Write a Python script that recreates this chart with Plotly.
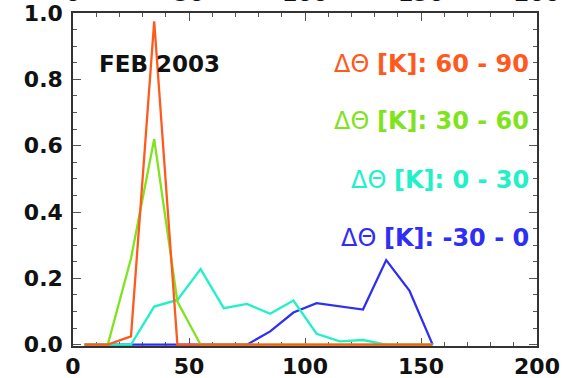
import plotly.graph_objects as go

# Bin centres of the distributions
x_bins = [5, 15, 25, 35, 45, 55, 65, 75, 85, 95, 105, 115, 125, 135, 145, 155]

# Normalised frequency for each potential-temperature-difference class
freq_m30_0 = [0, 0, 0, 0, 0, 0, 0, 0, 0.04, 0.097, 0.125, 0.116, 0.106, 0.255, 0.163, 0]
freq_0_30 = [0, 0, 0, 0.115, 0.135, 0.228, 0.11, 0.123, 0.093, 0.133, 0.033, 0.01, 0.014, 0, 0, 0]
freq_30_60 = [0, 0, 0.26, 0.62, 0.13, 0, 0, 0, 0, 0, 0, 0, 0, 0, 0, 0]
freq_60_90 = [0, 0, 0.025, 0.975, 0, 0, 0, 0, 0, 0, 0, 0, 0, 0, 0, 0]

series_labels = ["-30 - 0", "0 - 30", "30 - 60", "60 - 90"]
series_values = [freq_m30_0, freq_0_30, freq_30_60, freq_60_90]
series_colors = ["#2E2EF5", "#22F0C8", "#7FE31E", "#FF5A1E"]
label_y = [0.321, 0.498, 0.673, 0.847]

title_text = "FEB 2003"
x_ticks = [0, 50, 100, 150, 200]
y_ticks = [0.0, 0.2, 0.4, 0.6, 0.8, 1.0]

TICK_FONT = dict(family="DejaVu Sans", size=22, color="#111111", weight="bold")
AXIS_COLOR = "#333333"

fig = go.Figure()
for name, vals, col in zip(series_labels, series_values, series_colors):
    fig.add_trace(go.Scatter(x=x_bins, y=vals, mode="lines", name=name,
                             line=dict(color=col, width=2.3), showlegend=False))

# invisible trace carrying the top axis labels
fig.add_trace(go.Scatter(x=[0, 200], y=[0, 0], xaxis="x2", mode="lines",
                         line=dict(width=0), hoverinfo="skip", showlegend=False))

common_x = dict(range=[0, 200], tickvals=x_ticks, ticktext=[str(t) for t in x_ticks],
                tickfont=TICK_FONT, showgrid=False, zeroline=False, automargin=False)

fig.update_layout(
    width=575, height=378,
    margin=dict(l=73, r=38, t=13, b=32, autoexpand=False),
    paper_bgcolor="white", plot_bgcolor="white",
    xaxis=dict(**common_x, showline=True, linecolor=AXIS_COLOR, linewidth=1.5,
               mirror="ticks", ticks="inside", ticklen=8, tickwidth=1.3,
               tickcolor="#555555", layer="below traces",
               minor=dict(dtick=10, ticks="inside", ticklen=4, tickwidth=1.2,
                          tickcolor="#555555"),
               ticklabelstandoff=0),
    xaxis2=dict(**common_x, overlaying="x", side="top", showline=False,
                ticks="", ticklabelstandoff=7),
    yaxis=dict(range=[-0.004, 1.0], tickvals=y_ticks, automargin=False,
               ticktext=[f"{v:.1f}" for v in y_ticks], tickfont=TICK_FONT,
               showgrid=False, zeroline=False, showline=True,
               linecolor=AXIS_COLOR, linewidth=1.5, mirror="ticks",
               ticks="inside", ticklen=8, tickwidth=1.3, tickcolor="#555555",
               layer="below traces",
               minor=dict(dtick=0.05, tick0=0, ticks="inside", ticklen=4,
                          tickwidth=1.2, tickcolor="#555555"),
               ticklabelstandoff=4),
)

fig.add_annotation(x=10.3, y=0.847, xref="x", yref="y", text=title_text,
                   showarrow=False, xanchor="left", yanchor="middle",
                   font=dict(family="DejaVu Sans", size=23, color="#111111",
                             weight="bold"))

for name, col, yy in zip(series_labels, series_colors, label_y):
    fig.add_annotation(x=197.5, y=yy, xref="x", yref="y",
                       text=f"\u0394\u0398 <b>[K]: {name}</b>",
                       showarrow=False, xanchor="right", yanchor="middle",
                       font=dict(family="DejaVu Sans", size=24, color=col))

fig.write_html("out.html")
